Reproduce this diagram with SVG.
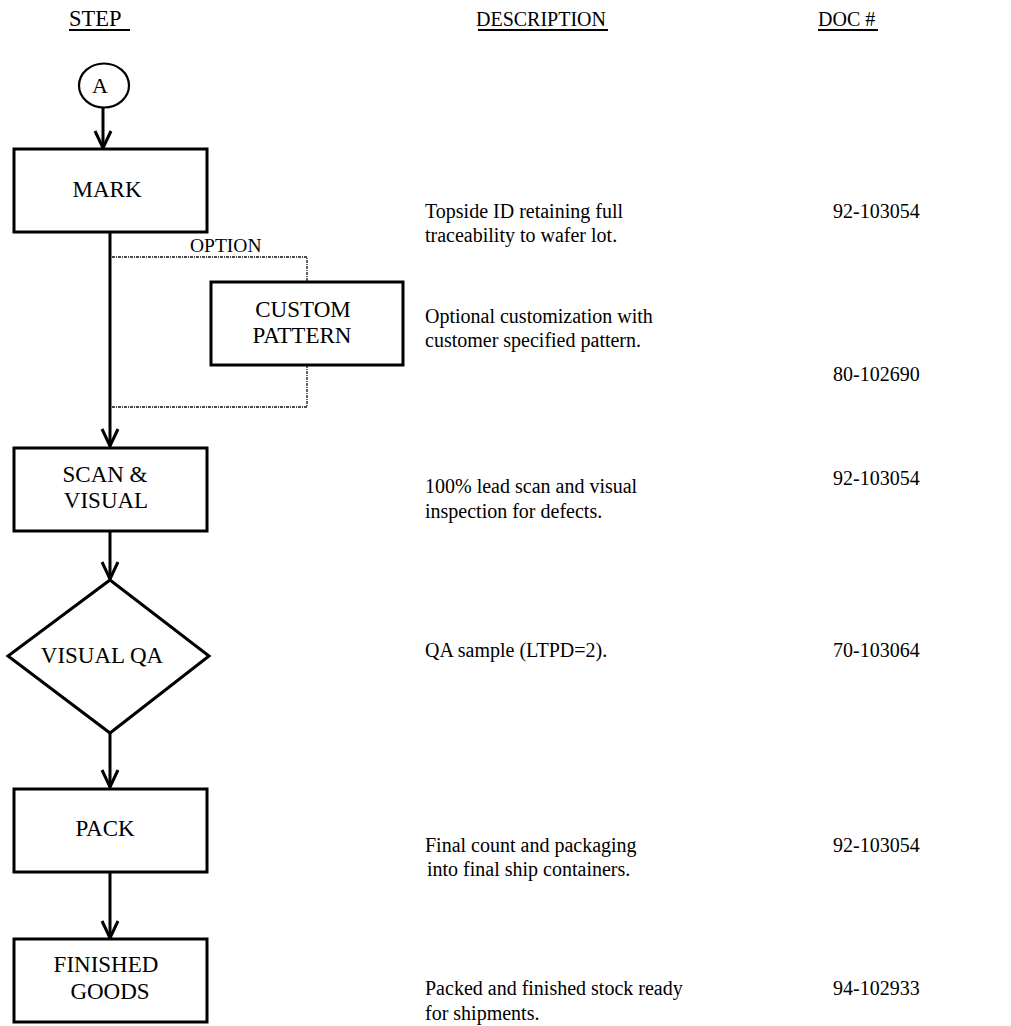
<svg xmlns="http://www.w3.org/2000/svg" width="1011" height="1026" viewBox="0 0 1011 1026">
<style>
  text { font-family: "Liberation Serif", "Times New Roman", serif; fill: #000; }
  .hdr { font-size: 20px; }
  .node { font-size: 23px; text-anchor: middle; }
  .desc { font-size: 20px; }
  .doc { font-size: 20px; }
  .opt { font-size: 19.5px; }
  .box { fill: #fff; stroke: #000; stroke-width: 3; }
  .flow { fill: none; stroke: #000; stroke-width: 3; }
  .head { fill: none; stroke: #000; stroke-width: 3; stroke-linejoin: miter; }
  .dot { fill: none; stroke: #111; stroke-width: 1.3; stroke-dasharray: 3 1 1 1; }
  .ul { stroke: #000; stroke-width: 2; }
</style>
<rect x="0" y="0" width="1011" height="1026" fill="#fff"/>

<g id="headers">
  <text class="hdr" x="69" y="26" font-size="22.5" style="font-size:22.5px">STEP</text>
  <line class="ul" x1="69" y1="30" x2="130" y2="30"/>
  <text class="hdr" x="476" y="26">DESCRIPTION</text>
  <line class="ul" x1="478" y1="30" x2="608" y2="30"/>
  <text class="hdr" x="818" y="26">DOC #</text>
  <line class="ul" x1="818" y1="30" x2="878" y2="30"/>
</g>

<g id="connectors">
  <line class="flow" x1="103" y1="107" x2="103" y2="148"/>
  <polyline class="head" points="95,131 103,148 111,131"/>
  <line class="flow" x1="110" y1="232" x2="110" y2="446"/>
  <polyline class="head" points="102,429 110,446 118,429"/>
  <line class="flow" x1="110" y1="531" x2="110" y2="579"/>
  <polyline class="head" points="102,562 110,579 118,562"/>
  <line class="flow" x1="110" y1="733" x2="110" y2="787"/>
  <polyline class="head" points="102,770 110,787 118,770"/>
  <line class="flow" x1="110" y1="872" x2="110" y2="938"/>
  <polyline class="head" points="102,921 110,938 118,921"/>
  <polyline class="dot" points="112,257 307,257 307,282"/>
  <polyline class="dot" points="307,365 307,407 112,407"/>
  <text class="opt" x="190" y="252">OPTION</text>
</g>

<g id="node-a">
  <ellipse cx="104" cy="85.5" rx="25" ry="22" fill="#fff" stroke="#000" stroke-width="2.2"/>
  <text x="100" y="93" style="font-size:22px" text-anchor="middle">A</text>
</g>

<g id="node-mark">
  <rect class="box" x="14" y="149" width="193" height="83"/>
  <text class="node" x="107" y="197">MARK</text>
</g>

<g id="node-custom">
  <rect class="box" x="211" y="282" width="192" height="83"/>
  <text class="node" x="303" y="317">CUSTOM</text>
  <text class="node" x="302" y="343">PATTERN</text>
</g>

<g id="node-scan">
  <rect class="box" x="14" y="448" width="193" height="83"/>
  <text class="node" x="105" y="482">SCAN &amp;</text>
  <text class="node" x="106" y="508">VISUAL</text>
</g>

<g id="node-qa">
  <polygon class="box" points="110,580 209,656 110,733 8,656"/>
  <text class="node" x="102" y="663">VISUAL QA</text>
</g>

<g id="node-pack">
  <rect class="box" x="14" y="789" width="193" height="83"/>
  <text class="node" x="105" y="836">PACK</text>
</g>

<g id="node-finished">
  <rect class="box" x="14" y="939" width="193" height="83"/>
  <text class="node" x="106" y="972">FINISHED</text>
  <text class="node" x="110" y="999">GOODS</text>
</g>

<g id="descriptions">
  <text class="desc" x="425" y="218">Topside ID retaining full</text>
  <text class="desc" x="425" y="242">traceability to wafer lot.</text>
  <text class="desc" x="425" y="323">Optional customization with</text>
  <text class="desc" x="425" y="347">customer specified pattern.</text>
  <text class="desc" x="425" y="493">100% lead scan and visual</text>
  <text class="desc" x="425" y="518">inspection for defects.</text>
  <text class="desc" x="425" y="657">QA sample (LTPD=2).</text>
  <text class="desc" x="425" y="852">Final count and packaging</text>
  <text class="desc" x="427" y="876">into final ship containers.</text>
  <text class="desc" x="425" y="995">Packed and finished stock ready</text>
  <text class="desc" x="425" y="1020">for shipments.</text>
</g>

<g id="docnums">
  <text class="doc" x="833" y="218">92-103054</text>
  <text class="doc" x="833" y="381">80-102690</text>
  <text class="doc" x="833" y="485">92-103054</text>
  <text class="doc" x="833" y="657">70-103064</text>
  <text class="doc" x="833" y="852">92-103054</text>
  <text class="doc" x="833" y="995">94-102933</text>
</g>
</svg>
